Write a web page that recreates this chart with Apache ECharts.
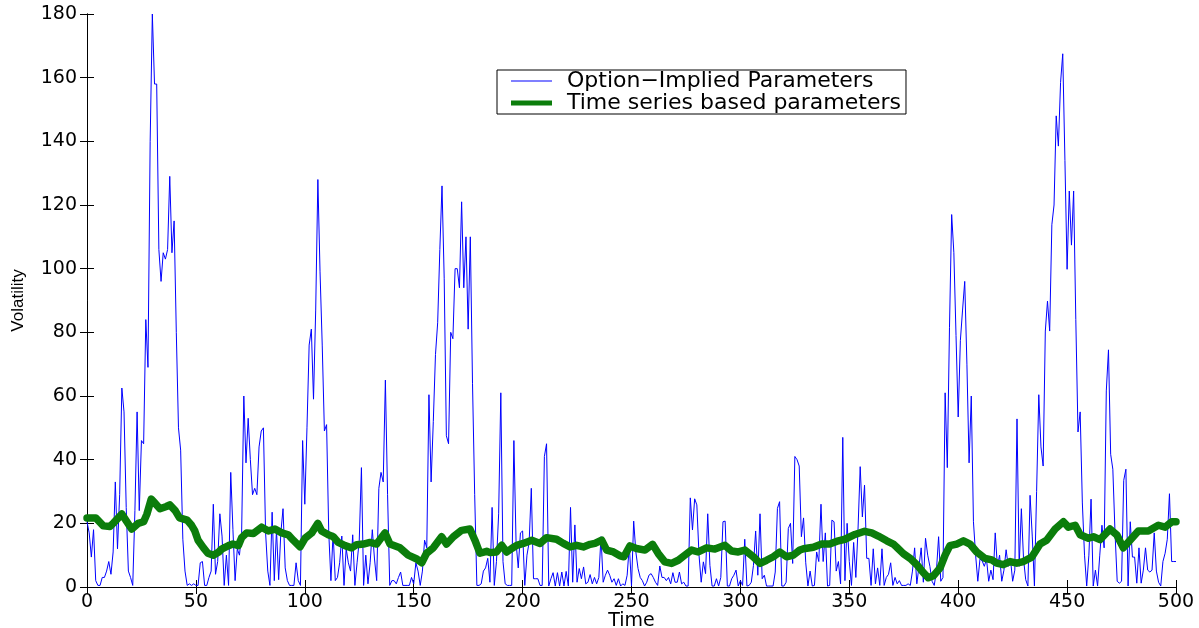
<!DOCTYPE html>
<html>
<head>
<meta charset="utf-8">
<script src="https://cdn.jsdelivr.net/npm/echarts@6/dist/echarts.min.js"></script>
<style>
html,body{margin:0;padding:0;background:#fff;}
#chart{width:1199px;height:628px;}
</style>
</head>
<body>
<div id="chart"></div>
<script>
// Option-implied volatility, one value per time step t = 0..500
const optionImplied = [
 20.5,17,9.4,18,2,0.5,0.5,3,3,5,
 8,4,11,33,12,29,62.5,55,25,5,
 3,0.5,24,55,24,46,45,84,69,140,
 180,158,158,106,96,105,103,106,129,105,
 115,80,50,43,15,5,0.5,1,0.5,1,
 0.5,0.5,7.6,8,0.5,0.5,3,5,26,4,
 8,23,16,0.5,10,0.5,36,18,2,12,
 10,17,60,39,53,40,29,31,29,44,
 49,50,17,5,0.5,23.5,2,18,2.3,17,
 24.6,6,2,0.5,0.5,0.5,7.6,2,0.5,46,
 26,50,76,81,59,87,128,99,76,49,
 51,17,2,17,2,3,7.6,16,0.5,12,
 7.6,5,16.4,0.5,7.6,14.7,37.5,0.5,10,1,
 7.6,18,8.8,2,31,36,33,65,29,0.5,
 2,2,1,3,4.7,0.5,0.5,0.5,0.5,3,
 1,7.6,5,0.5,5,14.7,12.3,60.4,33,52,
 73,83,106,126,97,47.5,45,80,78,100,
 100,94,121,94,110,81,110,64,29,0.5,
 0.5,1,5,6,9,1.5,25,0.5,8,23,
 61,8,1,0.5,0.5,0.5,46,14,6,17,
 17.6,0.5,10,14,31,2.6,2.6,2.6,0.5,0.5,
 41,45,0.3,2.6,4.5,0.3,4.5,0.3,4.7,0.3,
 4.9,0.3,25,1.5,19.5,1.5,5.8,2.6,6.3,1,
 1.5,3.9,1,3,1,3,15.8,1.5,3.7,5.3,
 3.7,1.5,2.6,0.5,2.6,0.3,1,0.5,3.7,13,
 0.3,20.7,11,5.8,3,2,0.3,1.5,3.7,4.2,
 3,1.5,0.5,6.6,3,3,2,3,1,4.5,
 1.5,1.5,4.7,1,1.5,0.3,0.3,28,17.9,27.7,
 25.8,10,1.5,7.9,4.2,23,6.8,0.3,0.3,2.6,
 0.3,3,20.5,20.7,0.3,0.3,2.6,3.7,5.3,0.3,
 2,0.5,15,0.3,0.5,1.5,6.8,17.6,3.7,23,
 2.6,3.7,0.3,0.3,0.3,0.3,4.7,24.7,26.8,0.3,
 0.3,1.5,18.4,20,7.4,41,40,38,15.8,21.7,
 7.6,0.3,5,0.3,0.5,11,8,26,8,17,
 0.3,0.5,21,20.5,5,8,1,47,2,20,
 8,0.5,14,3,18,37.8,22,32,9,9,
 0.5,12,1,6,0.5,12,0.5,3,4,7.6,
 0.5,3,1,2,0.5,0.5,0.5,1,0.5,5,
 12.3,1,6.5,12.3,1.5,15.3,10,6.5,1.8,0.5,
 5,15.8,1.8,3,61,37.5,81.6,117,105,79,
 53.4,77.5,87,96,70,39,60,20.5,10,1.8,
 8.8,8.2,6.5,8.8,1.8,5.3,2.3,17,6.5,10,
 1.8,5.3,11.7,6.5,8.8,1.8,5.3,52.8,6.5,24.6,
 8.8,2.3,0.3,28.8,16,0.3,30,60.4,44,38,
 80.4,89.8,80.4,113.8,120,148,138.5,158.5,167.5,134,
 99.8,124.4,107.4,124.4,84,48.7,55,26.4,10,0.3,
 10,27.6,0.3,5.3,0.3,10,19.4,12.3,61.6,74.5,
 41.7,37,17,1.8,1.2,1.8,33.5,37,0.3,20.5,
 9.4,9.4,1.2,12.3,1.2,5.3,12.3,5.3,4.7,5.3,
 17,5,1.5,0.3,8,10.6,15,29.3,8,8,
 8
];

// Time-series based volatility, read at these times
const tsTime = [0,4,5,7.5,10.5,12,16,20.5,23.5,26,27.5,29.5,31,33.5,36.5,38,40.5,42.5,46,48,49.5,51,53.5,55.5,58,60.5,
 62,65,67,69.5,71,73.3,76.4,80.2,83.3,86.3,89.4,92.4,94.7,97.8,100.1,103.2,106,107.7,110.8,113.1,115.4,118.5,121.5,
 123.8,126.9,129.9,133,136.8,139.1,143.7,147.5,151.4,153.7,155.9,159,162.8,165.1,168.2,172,175.8,178.1,180.4,183.5,
 185,188,190.4,192.7,195,197.3,200.3,204.2,208,211,215.6,218.7,221.8,224.8,227.9,231,233.2,236.3,238.6,241.7,244.7,246.5,249.3,
 252.3,256.2,259.7,262.3,265.3,268.4,271.5,274.5,277.6,280.6,284.5,288.3,292.9,296,299,302.1,305.9,309,312,315.1,318.1,321.2,324.3,327.3,
 329,333.5,337.3,341,345,348,352.6,357,360.3,363.3,367.2,370.2,
 371.8,374.8,377.9,381,384,386.3,388.6,391.7,394,396.2,399.3,402.4,405.4,408.5,412.3,415.4,417.7,420.7,423.8,426.9,429.9,
 433.8,437.6,440.6,444.5,448.3,450.6,453.7,456,459.8,462.1,465.1,469.7,472.8,475.8,478.9,482.7,487.3,491.9,495,498.1,500];
const tsVol = [21.7,21.7,21,19.2,19,20,22.9,18.2,20,20.5,22.9,27.6,26.5,24.6,25.3,25.8,24,21.7,21,19.4,17.6,14.7,12.3,10.6,10,11,
 12,13,13.5,13,15.5,17,16.8,18.8,17.6,18.2,17,16.4,14.7,12.6,15.3,17,20,17.6,16.4,15.8,14,13,12.3,
 13.3,13.5,14,13.5,17,13.5,12.3,10,8.8,7.6,10.6,12.3,15.8,13.5,15.8,17.8,18.2,14.7,10.6,11.2,
 10.8,11,13.1,11,12.1,13.1,13.7,14.7,13.7,15.5,15,13.7,12.6,13.1,12.6,13.4,13.7,14.7,11.6,11,9.8,9.5,12.9,
 12.1,11.6,13.4,10.5,7.9,7.4,8.4,10,11.6,11,12.3,11.9,13.1,11.3,11,11.6,9.5,7.4,8.4,9.5,11,9.5,10,11.6,
 12,12.5,13.5,13.5,14.5,15,16.5,17.5,17,16,14.5,13.5,
 12.5,10.5,9,7,4.5,2.9,3.5,6,10,13,13.5,14.5,13.5,11,9,8.5,7.5,7,8,7.5,8,
 9.4,13.5,14.7,18.2,20.5,18.8,19.4,16.4,15.3,15.8,14.9,18.2,16.4,12.3,14.7,17.6,17.6,19.4,18.8,20.5,20.5];

const xTicks = [0,50,100,150,200,250,300,350,400,450,500];
const yTicks = [0,20,40,60,80,100,120,140,160,180];
const seriesNames = ['Option\u2212Implied Parameters','Time series based parameters'];

const blueData = optionImplied.map((v,i)=>[i,v]);
const greenData = tsTime.map((t,i)=>[t,tsVol[i]]);

const chart = echarts.init(document.getElementById('chart'), null, {renderer:'canvas'});
const tickFont = {fontFamily:'DejaVu Sans', fontSize:19, color:'#000'};
const frame = {show:true, lineStyle:{color:'#000', width:1}};
const ticks = {show:true, inside:true, length:7, lineStyle:{color:'#000', width:1}};
const xBase = {type:'value', min:0, max:500, interval:50, splitLine:{show:false}, axisLine:frame, axisTick:ticks};
const yBase = {type:'value', min:0, max:180, interval:20, splitLine:{show:false}, axisLine:frame, axisTick:ticks};

chart.setOption({
  backgroundColor:'#fff',
  animation:false,
  grid:{left:87, right:23, top:14, bottom:41, containLabel:false, outerBoundsMode:'none'},
  legend:{
    data:[
      {name:seriesNames[0], icon:'path://M0,0H40V1H0Z'},
      {name:seriesNames[1], icon:'path://M0,0H40V5H0Z'}
    ],
    left:497, top:70, orient:'vertical',
    backgroundColor:'#fff', borderColor:'#000', borderWidth:1, borderRadius:0,
    padding:[0,5,0,14], itemGap:0, itemWidth:41, itemHeight:17,
    itemStyle:{borderWidth:0},
    textStyle:{fontFamily:'DejaVu Sans', fontSize:22, color:'#000', padding:[0,0,0,10]}
  },
  xAxis:[
    Object.assign({}, xBase, {position:'bottom',
      axisLabel:Object.assign({margin:6, formatter:v=>xTicks.includes(v)?String(v):''}, tickFont),
      name:'Time', nameLocation:'middle', nameGap:25, nameMoveOverlap:false,
      nameTextStyle:{fontFamily:'DejaVu Sans', fontSize:19, color:'#000'}}),
    Object.assign({}, xBase, {position:'top', axisLabel:{show:false}})
  ],
  yAxis:[
    Object.assign({}, yBase, {position:'left',
      axisLabel:Object.assign({margin:10, formatter:v=>yTicks.includes(v)?String(v):''}, tickFont),
      name:'Volatility', nameLocation:'middle', nameGap:60, nameMoveOverlap:false,
      nameTextStyle:{fontFamily:'Liberation Sans', fontSize:17, color:'#000'}}),
    Object.assign({}, yBase, {position:'right', axisLabel:{show:false}})
  ],
  series:[
    {name:seriesNames[0], type:'line', data:blueData, symbol:'none', showSymbol:false,
     lineStyle:{color:'#0000ff', width:1}, itemStyle:{color:'#0000ff'}, z:2},
    {name:seriesNames[1], type:'line', data:greenData, symbol:'none', showSymbol:false, smooth:false,
     lineStyle:{color:'#0b7d0b', width:7.5, cap:'round', join:'round'}, itemStyle:{color:'#0b7d0b'}, z:3}
  ]
});
</script>
</body>
</html>
